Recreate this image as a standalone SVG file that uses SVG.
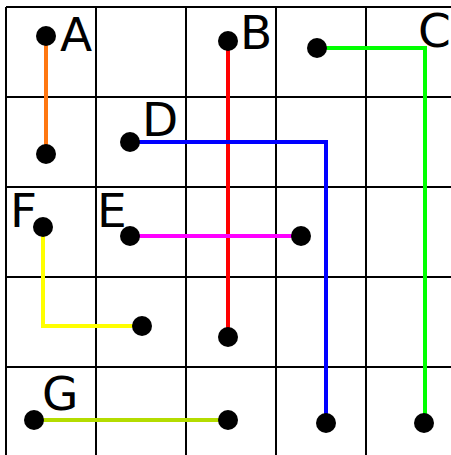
<svg xmlns="http://www.w3.org/2000/svg" width="451" height="455" viewBox="0 0 451 455">
<style>
.grid{stroke:#000;stroke-width:2;fill:none}
.c{stroke-width:4;fill:none}
.dot{fill:#000}
.lbl{font-family:"DejaVu Sans",sans-serif;font-size:47px;fill:#000}
</style>
<rect width="451" height="455" fill="#fff"/>
<g id="grid" class="grid">
<line x1="6" y1="7" x2="6" y2="455"/>
<line x1="96" y1="7" x2="96" y2="455"/>
<line x1="186" y1="7" x2="186" y2="455"/>
<line x1="276" y1="7" x2="276" y2="455"/>
<line x1="366" y1="7" x2="366" y2="455"/>
<line x1="6" y1="7" x2="451" y2="7"/>
<line x1="6" y1="97" x2="451" y2="97"/>
<line x1="6" y1="187" x2="451" y2="187"/>
<line x1="6" y1="277" x2="451" y2="277"/>
<line x1="6" y1="367" x2="451" y2="367"/>
</g>
<g id="connectors">
<polyline class="c" stroke="#ff7711" points="46,36 46,154"/>
<polyline class="c" stroke="#ff0000" points="228,41 228,337"/>
<polyline class="c" stroke="#00ff00" points="317,48 425,48 425,423"/>
<polyline class="c" stroke="#0000ff" points="130,142 326,142 326,423"/>
<polyline class="c" stroke="#ff00ff" points="130,236 301,236"/>
<polyline class="c" stroke="#ffff00" points="43,227 43,326 142,326"/>
<polyline class="c" stroke="#b4dc00" points="34,420 228,420"/>
</g>
<g id="A"><circle class="dot" cx="46" cy="36" r="10"/><circle class="dot" cx="46" cy="154" r="10"/><text class="lbl" x="60" y="51">A</text></g>
<g id="B"><circle class="dot" cx="228" cy="41" r="10"/><circle class="dot" cx="228" cy="337" r="10"/><text class="lbl" x="240" y="49">B</text></g>
<g id="C"><circle class="dot" cx="317" cy="48" r="10"/><circle class="dot" cx="424" cy="423" r="10"/><text class="lbl" x="418" y="47">C</text></g>
<g id="D"><circle class="dot" cx="130" cy="142" r="10"/><circle class="dot" cx="326" cy="423" r="10"/><text class="lbl" x="142" y="136">D</text></g>
<g id="E"><circle class="dot" cx="130" cy="236" r="10"/><circle class="dot" cx="301" cy="236" r="10"/><text class="lbl" x="97" y="227">E</text></g>
<g id="F"><circle class="dot" cx="43" cy="227" r="10"/><circle class="dot" cx="142" cy="326" r="10"/><text class="lbl" x="10" y="227">F</text></g>
<g id="G"><circle class="dot" cx="34" cy="420" r="10"/><circle class="dot" cx="228" cy="420" r="10"/><text class="lbl" x="42" y="410">G</text></g>
</svg>
